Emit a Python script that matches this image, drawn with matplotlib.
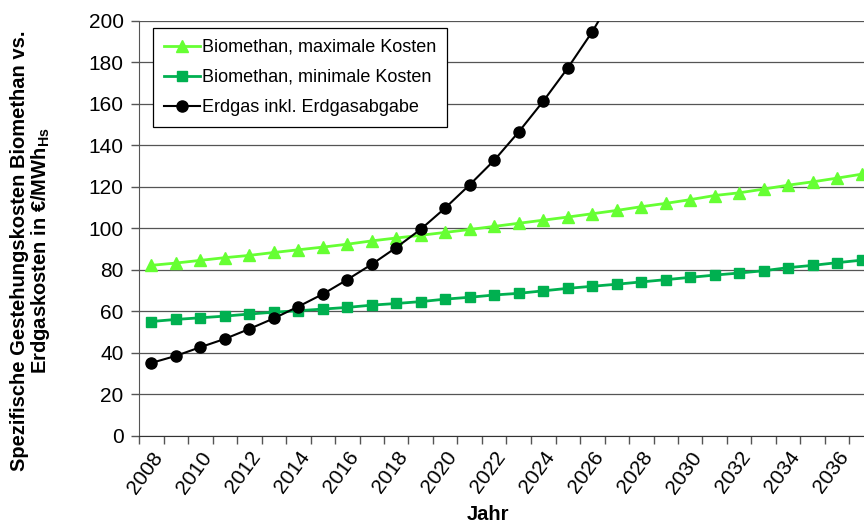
import matplotlib.pyplot as plt
import numpy as np

plt.rcParams['font.family'] = ['Liberation Sans', 'DejaVu Sans']
plt.rcParams['mathtext.fontset'] = 'custom'
plt.rcParams['mathtext.rm'] = 'Liberation Sans'
plt.rcParams['mathtext.bf'] = 'Liberation Sans:bold'

jahre = list(range(2008, 2038))

# Biomethan, maximale Kosten
bio_max = [82.1, 83.2, 84.5, 85.8, 86.9, 88.3, 89.6, 90.9, 92.3, 93.9,
           95.3, 96.6, 98.0, 99.4, 100.9, 102.4, 103.9, 105.4, 107.0, 108.6,
           110.4, 112.0, 113.8, 115.8, 117.1, 118.9, 120.8, 122.4, 124.2, 126.1]

# Biomethan, minimale Kosten
bio_min = [55.0, 56.0, 56.8, 57.6, 58.6, 59.5, 60.2, 61.0, 61.8, 62.9,
           63.7, 64.6, 65.8, 66.7, 67.8, 68.6, 69.8, 71.0, 72.0, 73.0,
           74.1, 75.2, 76.3, 77.4, 78.4, 79.5, 81.0, 82.1, 83.4, 84.6]

# Erdgas inkl. Erdgasabgabe (ab 2027 ausserhalb der Skala)
erdgas = [35.0, 38.4, 42.6, 46.6, 51.4, 56.5, 62.2, 68.2, 75.2, 82.6,
          90.7, 99.5, 109.8, 121.0, 132.8, 146.5, 161.3, 177.3, 194.8, 215.0]

y_ticks = list(range(0, 201, 20))

fig = plt.figure(figsize=(8.64, 5.26), dpi=100)
ax = fig.add_axes([139 / 864, 90.5 / 526, 735 / 864, 414.5 / 526])

x = np.arange(len(jahre))
ax.plot(x, bio_max, color='#66FF33', lw=2, marker='^', ms=8,
        label='Biomethan, maximale Kosten', zorder=3)
ax.plot(x, bio_min, color='#00B050', lw=2, marker='s', ms=6.5,
        label='Biomethan, minimale Kosten', zorder=3)
ax.plot(x[:len(erdgas)], erdgas, color='black', lw=1.5, marker='o', ms=8,
        label='Erdgas inkl. Erdgasabgabe', zorder=4)

ax.set_xlim(-0.5, len(jahre) - 0.5)
ax.set_ylim(0, 200)
ax.set_yticks(y_ticks)
ax.tick_params(axis='y', labelsize=15, length=6, width=1, color='#555555', pad=5)
ax.yaxis.grid(True, color='#555555', lw=0.9)
ax.set_axisbelow(True)

# Kategorieachse: Striche zwischen den Jahren, Beschriftung jedes zweite Jahr
ax.set_xticks(np.arange(-0.5, len(jahre), 1))
ax.set_xticklabels([])
ax.tick_params(axis='x', which='major', length=6, width=1, color='#555555')
ax.set_xticks(x[::2], minor=True)
ax.set_xticklabels([str(j) for j in jahre[::2]], minor=True)
ax.tick_params(axis='x', which='minor', length=0, labelsize=15, pad=9)
for lbl in ax.get_xticklabels(minor=True):
    lbl.set_rotation(54)
    lbl.set_ha('right')
    lbl.set_rotation_mode('anchor')

for s in ['top', 'right']:
    ax.spines[s].set_visible(False)
ax.spines['left'].set_color('#555555')
ax.spines['bottom'].set_color('#333333')

leg = ax.legend(loc='upper left', bbox_to_anchor=(0.019, 0.983), fontsize=13,
                frameon=True, fancybox=False, edgecolor='black', framealpha=1,
                handlelength=2.0, handletextpad=0.1, borderpad=0.6,
                labelspacing=0.72, borderaxespad=0)
leg.get_frame().set_linewidth(0.9)

fig.text(488 / 864, 2 / 526, 'Jahr', ha='center', va='bottom',
         fontsize=14.5, fontweight='bold')
fig.text(31 / 864, 275 / 526,
         'Spezifische Gestehungskosten Biomethan vs.\n'
         r'Erdgaskosten in €/MWh$_{\mathbf{Hs}}$',
         rotation=90, ha='center', va='center', ma='center',
         fontsize=14.5, fontweight='bold', linespacing=1.05)

fig.savefig('out.png', dpi=100)
